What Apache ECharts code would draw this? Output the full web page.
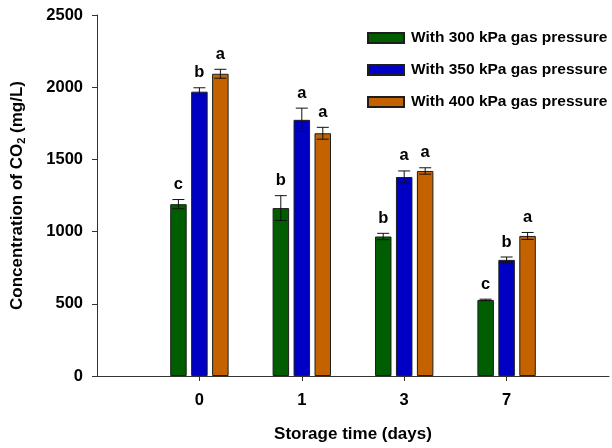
<!DOCTYPE html>
<html>
<head>
<meta charset="utf-8">
<script src="https://cdn.jsdelivr.net/npm/echarts@6/dist/echarts.min.js"></script>
<style>
  html, body { margin: 0; padding: 0; background: #fff; }
  #main { width: 612px; height: 448px; }
</style>
</head>
<body>
<div id="main"></div>
<script>
// storage days on the x axis (padded with blank slots at both ends)
var days = ['0', '1', '3', '7'];
var seriesNames = ['With 300 kPa gas pressure', 'With 350 kPa gas pressure', 'With 400 kPa gas pressure'];
var colors = ['#005e00', '#0000c4', '#c46200'];

var co2_300 = [1190, 1163, 966, 527];
var co2_350 = [1969, 1774, 1378, 804];
var co2_400 = [2093, 1681, 1420, 970];

var err_300 = [32, 86, 22, 5];
var err_350 = [27, 81, 42, 20];
var err_400 = [31, 41, 22, 24];

var letters_300 = ['c', 'b', 'b', 'c'];
var letters_350 = ['b', 'a', 'a', 'b'];
var letters_400 = ['a', 'a', 'a', 'a'];

var yTicks = [0, 500, 1000, 1500, 2000, 2500];

var font = 'Arial, "Liberation Sans", sans-serif';
var values = [co2_300, co2_350, co2_400];
var errs = [err_300, err_350, err_400];
var letters = [letters_300, letters_350, letters_400];

var cats = [''].concat(days).concat(['']);
function pad(arr) { return [null].concat(arr).concat([null]); }

var chart = echarts.init(document.getElementById('main'), null, { renderer: 'canvas' });

var BAR_W = 16.5, STEP = 21;

var series = [];
for (var s = 0; s < 3; s++) {
  series.push({
    name: seriesNames[s],
    type: 'bar',
    barWidth: BAR_W,
    barGap: '27%',
    itemStyle: { color: colors[s], borderColor: '#1e1e1e', borderWidth: 1 },
    data: pad(values[s]),
    z: 2
  });
}

// error bars + significance letters
var errData = [];
for (var s2 = 0; s2 < 3; s2++) {
  for (var i = 0; i < days.length; i++) {
    errData.push([i + 1, values[s2][i], errs[s2][i], s2, letters[s2][i]]);
  }
}
series.push({
  type: 'custom',
  z: 5,
  silent: true,
  data: errData,
  encode: { x: 0, y: 1 },
  renderItem: function (params, api) {
    var idx = api.value(0), v = api.value(1), e = api.value(2), s = api.value(3);
    var letter = errData[params.dataIndex][4];
    var dx = (s - 1) * STEP;
    var top = api.coord([idx, v + e]);
    var bot = api.coord([idx, v - e]);
    var x = top[0] + dx;
    var cap = 6;
    var st = { stroke: '#111', lineWidth: 1 };
    return {
      type: 'group',
      children: [
        { type: 'line', shape: { x1: x, y1: top[1], x2: x, y2: bot[1] }, style: st },
        { type: 'line', shape: { x1: x - cap, y1: top[1], x2: x + cap, y2: top[1] }, style: st },
        { type: 'line', shape: { x1: x - cap, y1: bot[1], x2: x + cap, y2: bot[1] }, style: st },
        { type: 'text', style: { text: letter, x: x, y: top[1] - 15, align: 'center', verticalAlign: 'middle',
            font: 'bold 16.5px ' + font, fill: '#000' } }
      ]
    };
  }
});

var option = {
  backgroundColor: '#fff',
  animation: false,
  textStyle: { fontFamily: font },
  grid: { left: 97, right: 0, top: 15, bottom: 69, containLabel: false },
  legend: {
    data: seriesNames,
    orient: 'vertical',
    left: 362,
    top: 25,
    icon: 'rect',
    itemWidth: 36,
    itemHeight: 10,
    itemGap: 16,
    textStyle: { fontSize: 15.5, fontWeight: 'bold', color: '#000', fontFamily: font, padding: [0, 0, 0, 2] }
  },
  xAxis: {
    type: 'category',
    data: cats,
    boundaryGap: false,
    axisLine: { lineStyle: { color: '#333', width: 1 } },
    axisTick: {
      length: 5,
      lineStyle: { color: '#333' },
      interval: function (index, value) { return value !== ''; }
    },
    axisLabel: { margin: 16, fontSize: 16.5, fontWeight: 'bold', color: '#000', fontFamily: font },
    name: 'Storage time (days)',
    nameLocation: 'middle',
    nameGap: 50,
    nameTextStyle: { fontSize: 17, fontWeight: 'bold', color: '#000', fontFamily: font },
    splitLine: { show: false }
  },
  yAxis: {
    type: 'value',
    min: yTicks[0],
    max: yTicks[yTicks.length - 1],
    interval: 500,
    axisLine: { show: true, lineStyle: { color: '#333', width: 1 } },
    axisTick: { show: true, length: 5, lineStyle: { color: '#333' } },
    axisLabel: {
      margin: 14, fontSize: 16.5, fontWeight: 'bold', color: '#000', fontFamily: font,
      formatter: function (v) { return String(v); }
    },
    splitLine: { show: false },
    name: '{a|Concentration of CO}{s|2}{a| (mg/L)}',
    nameLocation: 'middle',
    nameGap: 70,
    nameTextStyle: {
      color: '#000',
      rich: {
        a: { fontSize: 17, fontWeight: 'bold', color: '#000', fontFamily: font, lineHeight: 20 },
        s: { fontSize: 11, fontWeight: 'bold', color: '#000', fontFamily: font, lineHeight: 20, verticalAlign: 'bottom', padding: [7, 0, 0, 0] }
      }
    }
  },
  series: series
};

chart.setOption(option);
</script>
</body>
</html>
